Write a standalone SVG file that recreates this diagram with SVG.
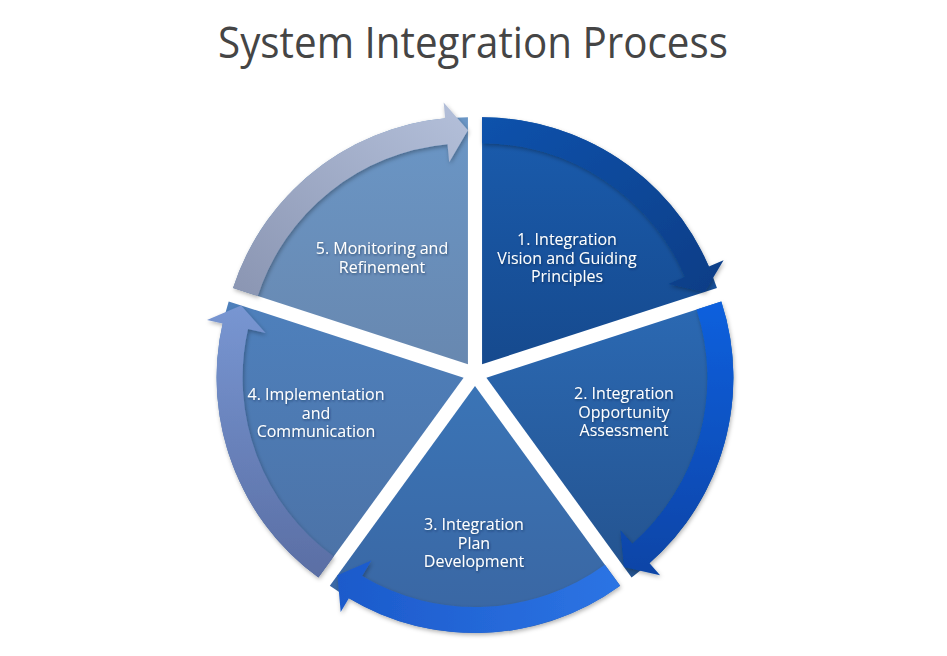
<svg xmlns="http://www.w3.org/2000/svg" width="947" height="656" viewBox="0 0 947 656">
  <defs>
    <linearGradient id="g1" x1="0" y1="0" x2="0" y2="1"><stop offset="0" stop-color="#1a5cae"/><stop offset="1" stop-color="#164a8e"/></linearGradient>
    <linearGradient id="g2" x1="0" y1="0" x2="0" y2="1"><stop offset="0" stop-color="#2b69b3"/><stop offset="1" stop-color="#24538f"/></linearGradient>
    <linearGradient id="g3" x1="0" y1="0" x2="0" y2="1"><stop offset="0" stop-color="#3a74b6"/><stop offset="1" stop-color="#3a66a2"/></linearGradient>
    <linearGradient id="g4" x1="0" y1="0" x2="0" y2="1"><stop offset="0" stop-color="#4e80bc"/><stop offset="1" stop-color="#4c72a6"/></linearGradient>
    <linearGradient id="g5" x1="0" y1="0" x2="0" y2="1"><stop offset="0" stop-color="#6a96c6"/><stop offset="1" stop-color="#6888b0"/></linearGradient>
    <linearGradient id="b1" x1="0" y1="0" x2="1" y2="1"><stop offset="0" stop-color="#0c52ac"/><stop offset="1" stop-color="#0a3d86"/></linearGradient>
    <linearGradient id="b2" x1="0" y1="0" x2="0" y2="1"><stop offset="0" stop-color="#0a60de"/><stop offset="1" stop-color="#0844a6"/></linearGradient>
    <linearGradient id="b3" x1="1" y1="0" x2="0" y2="0"><stop offset="0" stop-color="#2c74e4"/><stop offset="1" stop-color="#1c5acb"/></linearGradient>
    <linearGradient id="b4" x1="0" y1="0" x2="0" y2="1"><stop offset="0" stop-color="#7896d2"/><stop offset="1" stop-color="#5a6ea4"/></linearGradient>
    <linearGradient id="b5" x1="1" y1="0" x2="0" y2="1"><stop offset="0" stop-color="#b4c0da"/><stop offset="1" stop-color="#8a95b2"/></linearGradient>
    <filter id="sh" x="-10%" y="-10%" width="120%" height="120%">
      <feDropShadow dx="1" dy="2" stdDeviation="2" flood-color="#000000" flood-opacity="0.3"/>
    </filter>
    <filter id="ts" x="-10%" y="-20%" width="120%" height="140%">
      <feDropShadow dx="0.8" dy="1.2" stdDeviation="1" flood-color="#0a1e40" flood-opacity="0.55"/>
    </filter>
  </defs>
  <style>
    .title { font-family: "Open Sans", "Noto Sans", sans-serif; font-size: 44px; fill: #454545; }
    .lbl { font-family: "Open Sans", "Noto Sans", sans-serif; font-size: 16px; fill: #ffffff; text-anchor: middle; }
    .band { filter: url(#sh); }
  </style>
  <rect width="947" height="656" fill="#ffffff"/>
  <text class="title" x="218" y="58" textLength="510" lengthAdjust="spacingAndGlyphs">System Integration Process</text>

  <g id="node1">
    <path d="M482.05,364.29 L482.05,117.29 A247,247 0 0 1 716.96,287.96 Z" fill="url(#g1)"/>
    <text class="lbl" filter="url(#ts)"><tspan x="567" y="245">1. Integration</tspan><tspan x="567" y="263.5">Vision and Guiding</tspan><tspan x="567" y="282">Principles</tspan></text>
  </g>
  <g id="node2">
    <path d="M486.41,377.71 L721.32,301.38 A247,247 0 0 1 631.59,577.54 Z" fill="url(#g2)"/>
    <text class="lbl" filter="url(#ts)"><tspan x="624" y="399">2. Integration</tspan><tspan x="624" y="417.5">Opportunity</tspan><tspan x="624" y="436">Assessment</tspan></text>
  </g>
  <g id="node3">
    <path d="M475,386 L620.18,585.83 A247,247 0 0 1 329.82,585.83 Z" fill="url(#g3)"/>
    <text class="lbl" filter="url(#ts)"><tspan x="474" y="530">3. Integration</tspan><tspan x="474" y="548.5">Plan</tspan><tspan x="474" y="567">Development</tspan></text>
  </g>
  <g id="node4">
    <path d="M463.59,377.71 L318.41,577.54 A247,247 0 0 1 228.68,301.38 Z" fill="url(#g4)"/>
    <text class="lbl" filter="url(#ts)"><tspan x="316" y="400">4. Implementation</tspan><tspan x="316" y="418.5">and</tspan><tspan x="316" y="437">Communication</tspan></text>
  </g>
  <g id="node5">
    <path d="M467.95,364.29 L233.04,287.96 A247,247 0 0 1 467.95,117.29 Z" fill="url(#g5)"/>
    <text class="lbl" filter="url(#ts)"><tspan x="382" y="254">5. Monitoring and</tspan><tspan x="382" y="272.5">Refinement</tspan></text>
  </g>

  <g id="connectors">
    <path class="band" d="M482.05,117.29 A247,247 0 0 1 708.91,266.59 L723.60,260.26 L704.60,291.98 L668.50,283.99 L685.03,276.87 A221,221 0 0 0 482.05,143.29 Z" fill="url(#b1)"/>
    <path class="band" d="M721.32,301.38 A247,247 0 0 1 649.52,563.18 L660.09,575.20 L623.95,567.02 L620.47,530.14 L632.35,543.66 A221,221 0 0 0 696.59,309.42 Z" fill="url(#b2)"/>
    <path class="band" d="M620.18,585.83 A247,247 0 0 1 348.86,598.37 L340.69,612.12 L337.46,575.31 L371.33,560.54 L362.14,576.01 A221,221 0 0 0 604.90,564.79 Z" fill="url(#b3)"/>
    <path class="band" d="M318.41,577.54 A247,247 0 0 1 222.63,323.41 L207.03,319.89 L241.04,305.40 L265.56,333.08 L248.00,329.12 A221,221 0 0 0 333.69,556.50 Z" fill="url(#b4)"/>
    <path class="band" d="M233.04,287.96 A247,247 0 0 1 445.13,118.35 L443.66,102.42 L467.95,130.29 L449.20,162.16 L447.54,144.24 A221,221 0 0 0 257.77,296.00 Z" fill="url(#b5)"/>
  </g>
</svg>
